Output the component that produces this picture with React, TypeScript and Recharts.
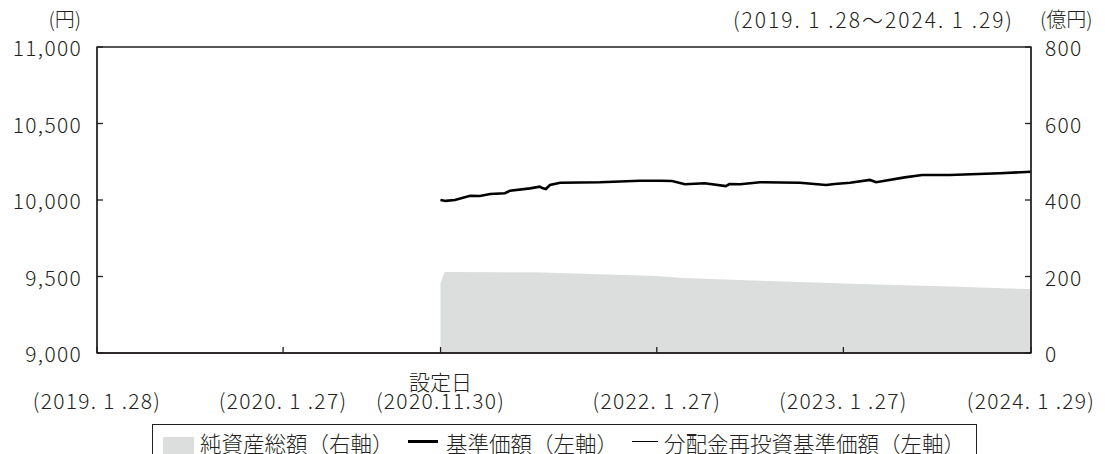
import { ComposedChart, Area, Line, XAxis, YAxis, ReferenceArea } from "recharts"

const navDates = [
  "2020-11-30", "2020-12-10", "2020-12-28", "2021-01-27", "2021-02-15", "2021-03-07",
  "2021-04-05", "2021-04-15", "2021-05-24", "2021-06-12", "2021-06-17", "2021-06-24",
  "2021-07-02", "2021-07-22", "2021-10-08", "2021-12-25", "2022-02-02", "2022-02-26",
  "2022-03-23", "2022-05-01", "2022-06-11", "2022-06-18", "2022-07-09", "2022-08-17",
  "2022-11-03", "2022-12-24", "2023-01-10", "2023-02-09", "2023-03-20", "2023-04-01",
  "2023-05-27", "2023-06-30", "2023-08-23", "2023-11-29", "2024-01-29",
]
const navValues = [
  10000, 9994, 10000, 10028, 10026, 10039,
  10044, 10061, 10076, 10087, 10078, 10072,
  10098, 10113, 10116, 10126, 10126, 10124,
  10103, 10109, 10091, 10104, 10103, 10116,
  10113, 10098, 10105, 10113, 10131, 10116,
  10148, 10163, 10163, 10175, 10185,
]
// 分配なし → 分配金再投資基準価額は基準価額と同じ
const reinvestValues = navValues

const assetDates = [
  "2020-11-30", "2020-12-08", "2021-06-01", "2021-10-08", "2022-01-27",
  "2022-03-20", "2022-08-17", "2023-01-27", "2023-08-23", "2024-01-29",
]
const assetValues = [183, 212, 211, 206, 201, 196, 189, 182, 174, 167]

const tickDates = ["2019-01-28", "2020-01-27", "2020-11-30", "2022-01-27", "2023-01-27", "2024-01-29"]
const tickLabels = ["(2019. 1 .28)", "(2020. 1 .27)", "(2020.11.30)", "(2022. 1 .27)", "(2023. 1 .27)", "(2024. 1 .29)"]
const leftTicks = [9000, 9500, 10000, 10500, 11000]
const rightTicks = [0, 200, 400, 600, 800]

const ts = (d: string) => Date.parse(d)
const T0 = ts("2019-01-28")
const T1 = ts("2024-01-29")
const SETUP = ts("2020-11-30")

const rows: Record<number, any> = {}
navDates.forEach((d, i) => {
  const t = ts(d)
  rows[t] = { ...(rows[t] || { t }), nav: navValues[i], reinvest: reinvestValues[i] }
})
assetDates.forEach((d, i) => {
  const t = ts(d)
  rows[t] = { ...(rows[t] || { t }), assets: assetValues[i] }
})
const data = Object.values(rows).sort((a: any, b: any) => a.t - b.t)

const INK = "#231f20"
const FONT = '"Noto Sans CJK JP", "Noto Sans", sans-serif'
const NUM_SPACING = 1.3

const fmt = (v: number) => v.toLocaleString("en-US")

const XTick = ({ x, y, payload }: any) => {
  const idx = tickDates.findIndex((d) => ts(d) === payload.value)
  return (
    <g>
      <line x1={x} x2={x} y1={y - 8} y2={y - 14} stroke={INK} strokeWidth={1.3} />
      {payload.value === SETUP && (
        <text x={x} y={y + 20} textAnchor="middle" dominantBaseline="central" fontSize={21} fill={INK} fontFamily={FONT} fontWeight={300}>
          設定日
        </text>
      )}
      <text
        x={x}
        y={y + 39}
        textAnchor="middle"
        dominantBaseline="central"
        fontSize={21}
        fill={INK}
        fontFamily={FONT}
        fontWeight={300}
        letterSpacing={NUM_SPACING}
      >
        {tickLabels[idx]}
      </text>
    </g>
  )
}

const LeftTick = ({ x, y, payload }: any) => (
  <g>
    <line x1={x + 8} x2={x + 14} y1={y} y2={y} stroke={INK} strokeWidth={1.3} />
    <text
      x={x - 7}
      y={y}
      textAnchor="end"
      dominantBaseline="central"
      fontSize={21}
      fill={INK}
      fontFamily={FONT}
      fontWeight={300}
      letterSpacing={NUM_SPACING}
    >
      {fmt(payload.value)}
    </text>
  </g>
)

const RightTick = ({ x, y, payload }: any) => (
  <g>
    <line x1={x - 8} x2={x - 14} y1={y} y2={y} stroke={INK} strokeWidth={1.3} />
    <text
      x={x + 6}
      y={y}
      textAnchor="start"
      dominantBaseline="central"
      fontSize={21}
      fill={INK}
      fontFamily={FONT}
      fontWeight={300}
      letterSpacing={NUM_SPACING}
    >
      {fmt(payload.value)}
    </text>
  </g>
)

export default function App() {
  const textStyle = {
    position: "absolute" as const,
    fontFamily: FONT,
    fontWeight: 300,
    color: INK,
    whiteSpace: "nowrap" as const,
    lineHeight: 1,
  }
  return (
    <div style={{ position: "absolute", left: 0, top: 0, width: 1105, height: 454, overflow: "hidden", background: "#fff" }}>
      <div style={{ ...textStyle, right: 1105 - 81, top: 9, fontSize: 20 }}>(円)</div>
      <div style={{ ...textStyle, right: 1105 - 1014, top: 9, fontSize: 21, letterSpacing: 2 }}>(2019. 1 .28～2024. 1 .29)</div>
      <div style={{ ...textStyle, left: 1040, top: 9, fontSize: 20 }}>(億円)</div>

      <ComposedChart width={1105} height={454} data={data} margin={{ top: 47, right: 0, bottom: 0, left: 0 }}>
        <XAxis
          dataKey="t"
          type="number"
          domain={[T0, T1]}
          ticks={tickDates.map(ts)}
          height={101}
          axisLine={{ stroke: INK, strokeWidth: 1.3 }}
          tickLine={false}
          tick={<XTick />}
          interval={0}
          allowDataOverflow
        />
        <YAxis
          yAxisId="left"
          orientation="left"
          width={97}
          domain={[9000, 11000]}
          ticks={leftTicks}
          axisLine={{ stroke: INK, strokeWidth: 1.3 }}
          tickLine={false}
          tick={<LeftTick />}
          interval={0}
        />
        <YAxis
          yAxisId="right"
          orientation="right"
          width={74}
          domain={[0, 800]}
          ticks={rightTicks}
          axisLine={{ stroke: INK, strokeWidth: 1.3 }}
          tickLine={false}
          tick={<RightTick />}
          interval={0}
        />
        <Area
          yAxisId="right"
          type="linear"
          dataKey="assets"
          fill="#dcdddd"
          fillOpacity={1}
          stroke="none"
          connectNulls
          dot={false}
          activeDot={false}
          isAnimationActive={false}
        />
        <Line
          yAxisId="left"
          type="linear"
          dataKey="reinvest"
          stroke="#000"
          strokeWidth={1}
          connectNulls
          dot={false}
          activeDot={false}
          isAnimationActive={false}
        />
        <Line
          yAxisId="left"
          type="linear"
          dataKey="nav"
          stroke="#000"
          strokeWidth={2.6}
          connectNulls
          dot={false}
          activeDot={false}
          isAnimationActive={false}
        />
        <ReferenceArea
          yAxisId="left"
          x1={T0}
          x2={T1}
          y1={9000}
          y2={11000}
          fill="none"
          stroke={INK}
          strokeWidth={1.3}
          ifOverflow="extendDomain"
        />
      </ComposedChart>

      <div
        style={{
          position: "absolute",
          left: 152,
          top: 424,
          width: 825,
          height: 44,
          border: `1.3px solid ${INK}`,
          boxSizing: "border-box",
        }}
      />
      <div style={{ position: "absolute", left: 163, top: 437, width: 31, height: 24, background: "#dcdddd" }} />
      <div style={{ ...textStyle, left: 200, top: 432, fontSize: 21.5 }}>純資産総額（右軸）</div>
      <div style={{ position: "absolute", left: 408, top: 440, width: 30, height: 3, background: "#000" }} />
      <div style={{ ...textStyle, left: 446, top: 432, fontSize: 21.5 }}>基準価額（左軸）</div>
      <div style={{ position: "absolute", left: 632, top: 441, width: 26, height: 1.3, background: "#000" }} />
      <div style={{ ...textStyle, left: 664, top: 432, fontSize: 21.5 }}>分配金再投資基準価額（左軸）</div>
    </div>
  )
}
